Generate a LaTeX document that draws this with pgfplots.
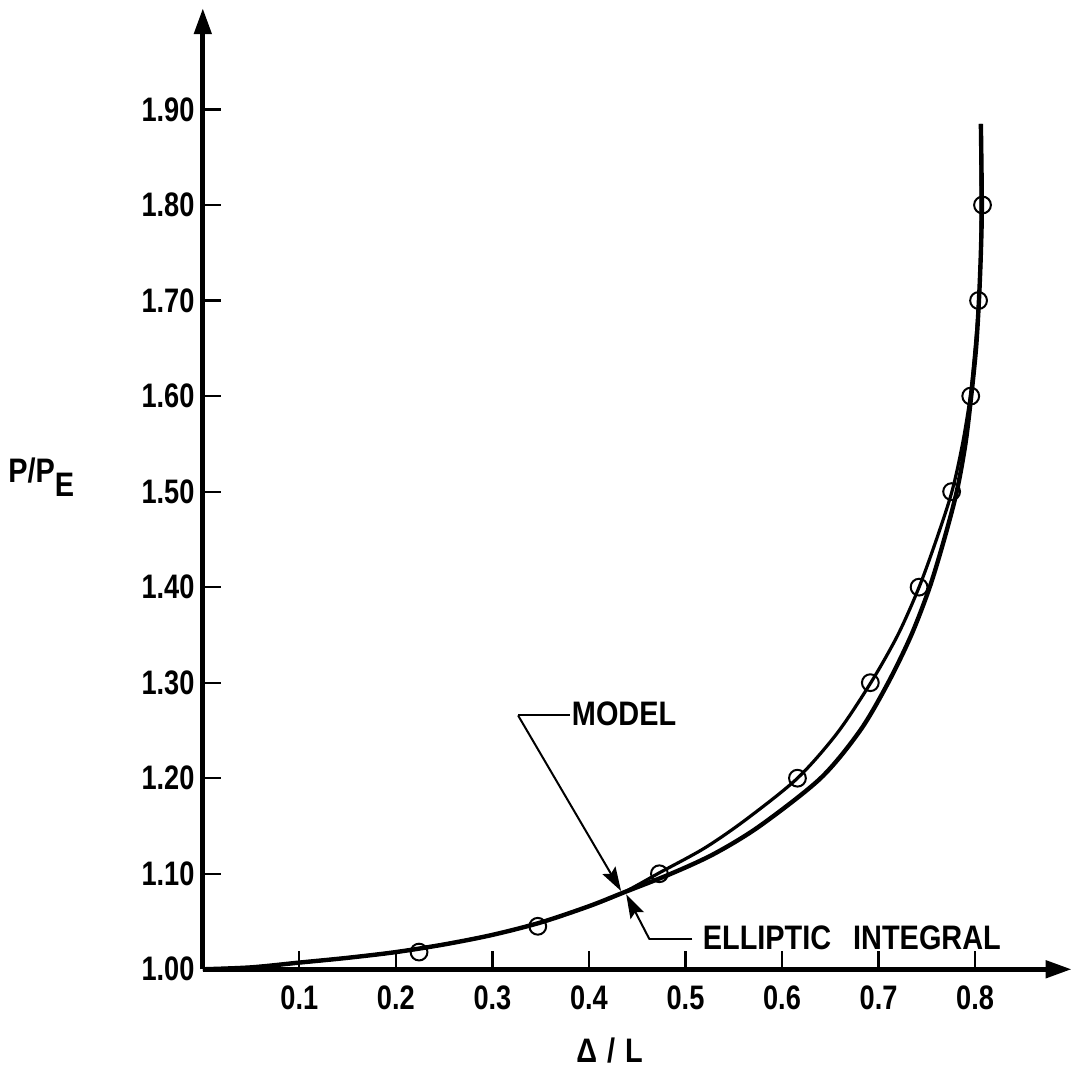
\documentclass[border=0pt]{standalone}
\usepackage{fontspec}
\setmainfont{Liberation Sans}[FakeStretch=0.8]
\newfontfamily\annot{Liberation Sans}[FakeStretch=0.85]
\usepackage{pgfplots}
\pgfplotsset{compat=1.18}
\usetikzlibrary{arrows.meta}
\newcommand{\lab}{\fontsize{17}{20}\selectfont\bfseries}
\newcommand{\ann}{\annot\fontsize{17}{20}\selectfont\bfseries}
\begin{document}
\begin{tikzpicture}
\begin{axis}[
  x=483pt, y=478pt,
  xmin=0, xmax=0.9, ymin=1, ymax=2.006,
  axis lines=left,
  x axis line style={line width=2.4pt, -{Triangle[length=13pt,width=8.5pt]}},
  y axis line style={line width=2.4pt, -{Triangle[length=13pt,width=8.5pt]}},
  tick align=inside,
  major tick length=9pt,
  tick style={line width=1.1pt, black},
  xtick={0.1,0.2,0.3,0.4,0.5,0.6,0.7,0.8},
  xticklabels={0.1,0.2,0.3,0.4,0.5,0.6,0.7,0.8},
  ytick={1.0,1.1,1.2,1.3,1.4,1.5,1.6,1.7,1.8,1.9},
  yticklabels={1.00,1.10,1.20,1.30,1.40,1.50,1.60,1.70,1.80,1.90},
  xticklabel style={font=\lab, inner sep=0pt, anchor=north, yshift=-8pt},
  yticklabel style={font=\lab, inner sep=0pt, anchor=east, xshift=-4pt},
  clip=false,
]
% frame of the whole picture
\path (axis cs:-0.2101,0.8975) rectangle (axis cs:0.9017,2.0146);

% curve through the circles
\addplot[black, line width=1.6pt, smooth] coordinates {
  (0.000,1.000) (0.050,1.002) (0.100,1.007) (0.150,1.012) (0.200,1.018)
  (0.250,1.026) (0.300,1.036) (0.350,1.049) (0.400,1.066) (0.435,1.080)
  (0.473,1.101) (0.520,1.127) (0.563,1.157) (0.616,1.200) (0.657,1.247)
  (0.692,1.300) (0.720,1.350) (0.742,1.400) (0.760,1.450) (0.776,1.500)
  (0.787,1.550) (0.795,1.600) (0.800,1.650) (0.804,1.700) (0.806,1.750)
  (0.806,1.800) (0.806,1.885)
};
% second curve
\addplot[black, line width=2.2pt, smooth] coordinates {
  (0.000,1.000) (0.050,1.002) (0.100,1.007) (0.150,1.012) (0.200,1.018)
  (0.250,1.026) (0.300,1.036) (0.350,1.049) (0.400,1.066) (0.435,1.080)
  (0.485,1.100) (0.530,1.121) (0.577,1.150) (0.640,1.200) (0.681,1.250)
  (0.710,1.300) (0.734,1.350) (0.753,1.400) (0.768,1.450) (0.781,1.500)
  (0.790,1.550) (0.796,1.600) (0.801,1.650) (0.804,1.700) (0.806,1.750)
  (0.807,1.800) (0.806,1.885)
};
% computed points
\addplot[only marks, mark=o, mark size=4.2pt, mark options={line width=1pt, black}] coordinates {
  (0.224,1.018) (0.347,1.045) (0.473,1.100) (0.616,1.200) (0.6915,1.300)
  (0.742,1.400) (0.7757,1.500) (0.7955,1.600) (0.8036,1.700) (0.8077,1.800)
};

% annotations
\draw[line width=1pt] (axis cs:0.3799,1.2657) -- (axis cs:0.3266,1.2657);
\draw[line width=1pt, -{Stealth[length=12pt,width=7.5pt,inset=2pt]}] (axis cs:0.3266,1.2657) -- (axis cs:0.4333,1.0819);
\node[anchor=base west, inner sep=0pt, font=\ann] at (axis cs:0.382,1.255) {MODEL};

\draw[line width=1pt] (axis cs:0.5072,1.0314) -- (axis cs:0.4627,1.0314);
\draw[line width=1pt, -{Stealth[length=12pt,width=7.5pt,inset=2pt]}] (axis cs:0.4627,1.0314) -- (axis cs:0.4386,1.0785);
\node[anchor=base west, inner sep=0pt, font=\ann] at (axis cs:0.5176,1.021) {ELLIPTIC\hspace{11pt}INTEGRAL};

\node[anchor=base, inner sep=0pt, font=\ann] at (axis cs:0.4213,0.9027) {Δ\hspace{5pt}/\hspace{5pt}L};
\node[anchor=base west, inner sep=0pt, font=\ann] at (axis cs:-0.2019,1.5094) {P/P\raisebox{-7pt}{E}};
\end{axis}
\end{tikzpicture}
\end{document}
